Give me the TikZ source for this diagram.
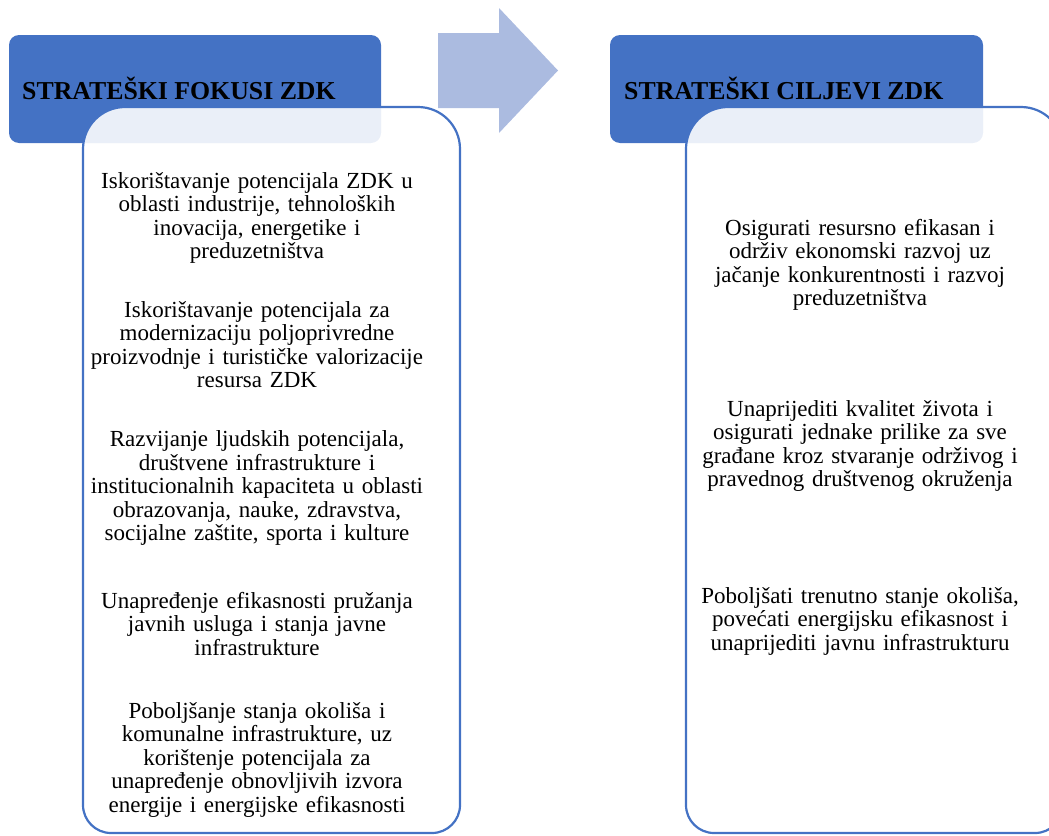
\documentclass[tikz,border=0pt]{standalone}
\usepackage{fontspec}
\setmainfont{Liberation Serif}
\definecolor{hdrblue}{HTML}{4472C4}
\definecolor{arrowblue}{RGB}{171,187,224}
\tikzset{
  header/.style={fill=hdrblue, rounded corners=10pt},
  listbox/.style={draw=hdrblue, line width=2.2pt, fill=white, fill opacity=0.89},
  titletext/.style={anchor=base west, inner sep=0pt, font=\fontsize{25.8}{28}\selectfont\bfseries},
  bodytext/.style={anchor=base, inner sep=0pt, align=center, text width=380pt, font=\fontsize{23}{23.6}\selectfont},
  arrowshape/.style={fill=arrowblue}
}
\begin{document}
\begin{tikzpicture}[x=1pt,y=1pt]
\useasboundingbox (0,0) rectangle (1049,-835);
\clip (0,0) rectangle (1049,-835);
% headers
\fill[header] (9,-35) rectangle (381,-143);
\fill[header] (610,-35) rectangle (983,-143);
% list boxes
\path[listbox] (83,-149) arc[start angle=180,end angle=90,radius=42] -- (418,-107)
  arc[start angle=90,end angle=0,radius=42] -- (460,-805)
  arc[start angle=0,end angle=-90,radius=28] -- (111,-833)
  arc[start angle=270,end angle=180,radius=28] -- cycle;
\path[listbox] (686,-149) arc[start angle=180,end angle=90,radius=42] -- (1021,-107)
  arc[start angle=90,end angle=0,radius=42] -- (1063,-805)
  arc[start angle=0,end angle=-90,radius=28] -- (714,-833)
  arc[start angle=270,end angle=180,radius=28] -- cycle;
% arrow
\fill[arrowshape] (438,-33) -- (499,-33) -- (499,-8) -- (558,-70.5) -- (499,-133) -- (499,-108) -- (438,-108) -- cycle;
% titles
\node[titletext] (t1) at (22,-99) {STRATEŠKI FOKUSI ZDK};
\node[titletext] (t2) at (624,-99) {STRATEŠKI CILJEVI ZDK};
% left texts
\node[bodytext] (l1) at (257,-188) {Iskorištavanje potencijala ZDK u\\oblasti industrije, tehnoloških\\inovacija, energetike i\\preduzetništva};
\node[bodytext] (l2) at (257,-317) {Iskorištavanje potencijala za\\modernizaciju poljoprivredne\\proizvodnje i turističke valorizacije\\resursa ZDK};
\node[bodytext] (l3) at (257,-446.5) {Razvijanje ljudskih potencijala,\\društvene infrastrukture i\\institucionalnih kapaciteta u oblasti\\obrazovanja, nauke, zdravstva,\\socijalne zaštite, sporta i kulture};
\node[bodytext] (l4) at (257,-608) {Unapređenje efikasnosti pružanja\\javnih usluga i stanja javne\\infrastrukture};
\node[bodytext] (l5) at (257,-718) {Poboljšanje stanja okoliša i\\komunalne infrastrukture, uz\\korištenje potencijala za\\unapređenje obnovljivih izvora\\energije i energijske efikasnosti};
% right texts
\node[bodytext] (r1) at (860,-235) {Osigurati resursno efikasan i\\održiv ekonomski razvoj uz\\jačanje konkurentnosti i razvoj\\preduzetništva};
\node[bodytext] (r2) at (860,-416) {Unaprijediti kvalitet života i\\osigurati jednake prilike za sve\\građane kroz stvaranje održivog i\\pravednog društvenog okruženja};
\node[bodytext] (r3) at (860,-603) {Poboljšati trenutno stanje okoliša,\\povećati energijsku efikasnost i\\unaprijediti javnu infrastrukturu};
\end{tikzpicture}
\end{document}
